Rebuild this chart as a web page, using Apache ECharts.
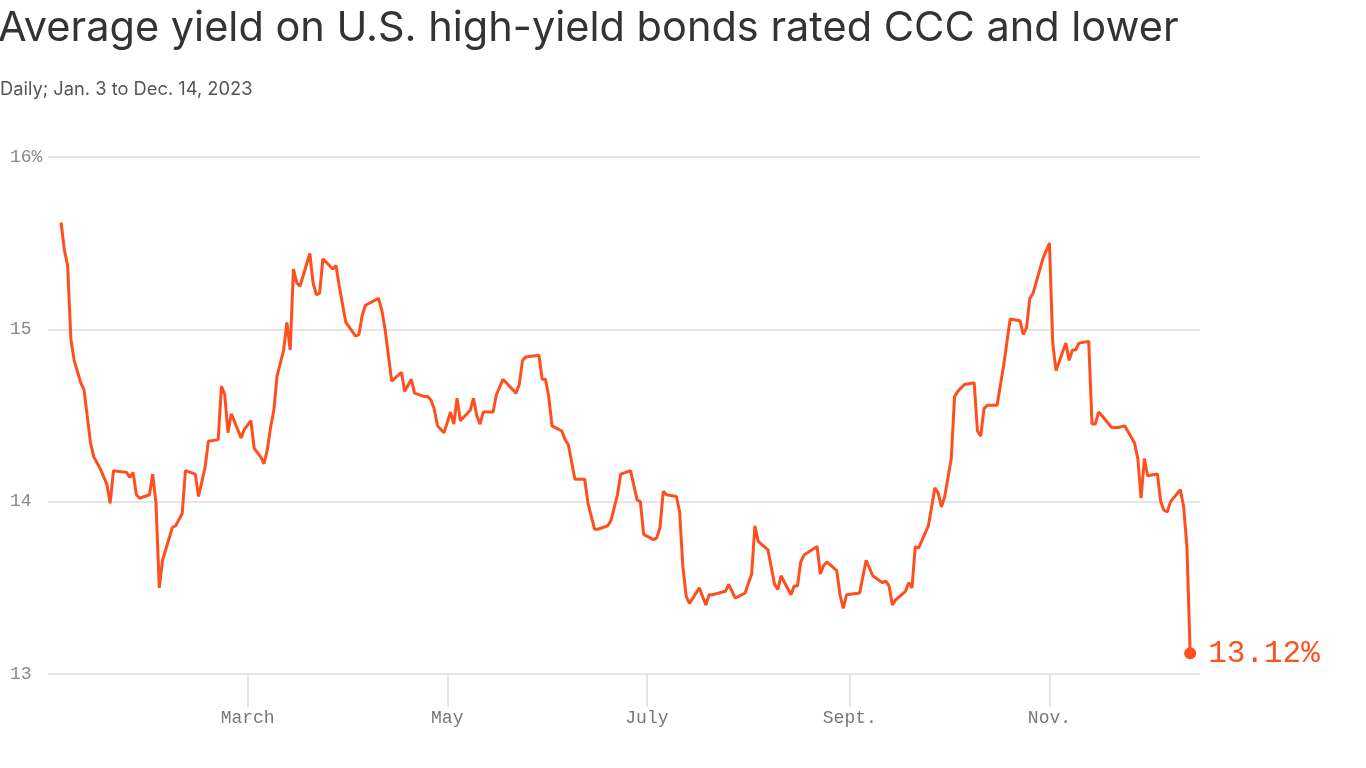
<!DOCTYPE html>
<html>
<head>
<meta charset="utf-8">
<title>CCC yield</title>
<script src="https://cdn.jsdelivr.net/npm/echarts@6/dist/echarts.min.js"></script>
<style>
  html, body { margin: 0; padding: 0; background: #fff; }
  #chart { width: 1366px; height: 768px; }
</style>
</head>
<body>
<div id="chart"></div>
<script>
  // daily yield readings, 2023
  var dates = [
    '2023-01-03', '2023-01-04', '2023-01-05', '2023-01-06', '2023-01-07', '2023-01-09', '2023-01-10', '2023-01-12',
    '2023-01-13', '2023-01-15', '2023-01-17', '2023-01-18', '2023-01-19', '2023-01-23', '2023-01-24', '2023-01-25',
    '2023-01-26', '2023-01-27', '2023-01-30', '2023-01-31', '2023-02-01', '2023-02-02', '2023-02-03', '2023-02-06',
    '2023-02-07', '2023-02-09', '2023-02-10', '2023-02-13', '2023-02-14', '2023-02-16', '2023-02-17', '2023-02-20',
    '2023-02-21', '2023-02-22', '2023-02-23', '2023-02-24', '2023-02-27', '2023-02-28', '2023-03-02', '2023-03-03',
    '2023-03-05', '2023-03-06', '2023-03-07', '2023-03-08', '2023-03-09', '2023-03-10', '2023-03-12', '2023-03-13',
    '2023-03-14', '2023-03-15', '2023-03-16', '2023-03-17', '2023-03-20', '2023-03-21', '2023-03-22', '2023-03-23',
    '2023-03-24', '2023-03-27', '2023-03-28', '2023-03-29', '2023-03-31', '2023-04-03', '2023-04-04', '2023-04-05',
    '2023-04-06', '2023-04-10', '2023-04-11', '2023-04-12', '2023-04-14', '2023-04-17', '2023-04-18', '2023-04-20',
    '2023-04-21', '2023-04-24', '2023-04-25', '2023-04-26', '2023-04-27', '2023-04-28', '2023-04-30', '2023-05-02',
    '2023-05-03', '2023-05-04', '2023-05-05', '2023-05-08', '2023-05-09', '2023-05-10', '2023-05-11', '2023-05-12',
    '2023-05-15', '2023-05-16', '2023-05-18', '2023-05-22', '2023-05-23', '2023-05-24', '2023-05-25', '2023-05-29',
    '2023-05-30', '2023-05-31', '2023-06-01', '2023-06-02', '2023-06-05', '2023-06-06', '2023-06-07', '2023-06-09',
    '2023-06-12', '2023-06-13', '2023-06-15', '2023-06-16', '2023-06-19', '2023-06-20', '2023-06-22', '2023-06-23',
    '2023-06-26', '2023-06-28', '2023-06-29', '2023-06-30', '2023-07-03', '2023-07-04', '2023-07-05', '2023-07-06',
    '2023-07-07', '2023-07-10', '2023-07-11', '2023-07-12', '2023-07-13', '2023-07-14', '2023-07-17', '2023-07-19',
    '2023-07-20', '2023-07-21', '2023-07-25', '2023-07-26', '2023-07-28', '2023-07-31', '2023-08-02', '2023-08-03',
    '2023-08-04', '2023-08-07', '2023-08-09', '2023-08-10', '2023-08-11', '2023-08-14', '2023-08-15', '2023-08-16',
    '2023-08-17', '2023-08-18', '2023-08-22', '2023-08-23', '2023-08-24', '2023-08-25', '2023-08-28', '2023-08-29',
    '2023-08-30', '2023-08-31', '2023-09-04', '2023-09-06', '2023-09-08', '2023-09-11', '2023-09-12', '2023-09-13',
    '2023-09-14', '2023-09-15', '2023-09-18', '2023-09-19', '2023-09-20', '2023-09-21', '2023-09-22', '2023-09-25',
    '2023-09-27', '2023-09-28', '2023-09-29', '2023-09-30', '2023-10-02', '2023-10-03', '2023-10-04', '2023-10-06',
    '2023-10-09', '2023-10-10', '2023-10-11', '2023-10-12', '2023-10-13', '2023-10-16', '2023-10-18', '2023-10-20',
    '2023-10-23', '2023-10-24', '2023-10-25', '2023-10-26', '2023-10-27', '2023-10-30', '2023-11-01', '2023-11-02',
    '2023-11-03', '2023-11-06', '2023-11-07', '2023-11-08', '2023-11-09', '2023-11-10', '2023-11-13', '2023-11-14',
    '2023-11-15', '2023-11-16', '2023-11-17', '2023-11-20', '2023-11-22', '2023-11-24', '2023-11-27', '2023-11-28',
    '2023-11-29', '2023-11-30', '2023-12-01', '2023-12-04', '2023-12-05', '2023-12-06', '2023-12-07', '2023-12-08',
    '2023-12-11', '2023-12-12', '2023-12-13', '2023-12-14'
  ]
  var yields = [
    15.62, 15.46, 15.37, 14.94, 14.82, 14.69, 14.65, 14.34,
    14.26, 14.19, 14.10, 13.99, 14.18, 14.17, 14.14, 14.17,
    14.04, 14.02, 14.04, 14.16, 13.99, 13.50, 13.66, 13.85,
    13.86, 13.93, 14.18, 14.16, 14.03, 14.20, 14.35, 14.36,
    14.67, 14.62, 14.40, 14.51, 14.37, 14.42, 14.47, 14.31,
    14.26, 14.22, 14.30, 14.43, 14.53, 14.73, 14.88, 15.04,
    14.88, 15.35, 15.27, 15.25, 15.44, 15.27, 15.20, 15.21,
    15.41, 15.35, 15.37, 15.25, 15.04, 14.96, 14.97, 15.08,
    15.14, 15.18, 15.11, 15.00, 14.70, 14.75, 14.64, 14.71,
    14.63, 14.61, 14.61, 14.59, 14.54, 14.44, 14.40, 14.52,
    14.45, 14.60, 14.47, 14.53, 14.60, 14.50, 14.45, 14.52,
    14.52, 14.62, 14.71, 14.63, 14.68, 14.82, 14.84, 14.85,
    14.71, 14.71, 14.61, 14.44, 14.41, 14.36, 14.33, 14.13,
    14.13, 13.99, 13.84, 13.84, 13.86, 13.89, 14.04, 14.16,
    14.18, 14.01, 14.00, 13.81, 13.78, 13.79, 13.85, 14.06,
    14.04, 14.03, 13.94, 13.62, 13.45, 13.41, 13.50, 13.40,
    13.46, 13.46, 13.48, 13.52, 13.44, 13.47, 13.58, 13.86,
    13.77, 13.72, 13.52, 13.49, 13.57, 13.46, 13.51, 13.51,
    13.65, 13.69, 13.74, 13.58, 13.63, 13.65, 13.60, 13.46,
    13.38, 13.46, 13.47, 13.66, 13.57, 13.53, 13.54, 13.51,
    13.40, 13.43, 13.48, 13.53, 13.50, 13.74, 13.73, 13.86,
    14.08, 14.05, 13.97, 14.03, 14.25, 14.61, 14.64, 14.68,
    14.69, 14.41, 14.38, 14.54, 14.56, 14.56, 14.79, 15.06,
    15.05, 14.97, 15.01, 15.18, 15.21, 15.41, 15.50, 14.92,
    14.76, 14.92, 14.82, 14.88, 14.88, 14.92, 14.93, 14.45,
    14.45, 14.52, 14.50, 14.43, 14.43, 14.44, 14.34, 14.25,
    14.02, 14.25, 14.15, 14.16, 14.00, 13.95, 13.94, 14.00,
    14.07, 13.97, 13.74, 13.12
  ]
  var tickDates = ['2023-03-01', '2023-05-01', '2023-07-01', '2023-09-01', '2023-11-01']
  var tickLabels = ['March', 'May', 'July', 'Sept.', 'Nov.']
  var yTicks = [13, 14, 15, 16]

  var lineColor = '#ff4f1f'
  var mono = '"Liberation Mono", "DejaVu Sans Mono", monospace'

  function toTime(s) {
    var p = s.split('-')
    return Date.UTC(+p[0], +p[1] - 1, +p[2])
  }

  var tickTimes = tickDates.map(toTime)
  var points = dates.map(function (d, i) { return [toTime(d), yields[i]] })
  var last = points[points.length - 1]

  var chart = echarts.init(document.getElementById('chart'))
  chart.setOption({
    animation: false,
    title: [{
      text: 'Average yield on U.S. high-yield bonds rated CCC and lower',
      left: -2,
      top: 8,
      padding: 0,
      textStyle: {
        fontFamily: 'Inter, "Noto Sans", sans-serif',
        fontWeight: 'normal',
        fontSize: 41.5,
        color: '#333'
      }
    }, {
      text: 'Daily; Jan. 3 to Dec. 14, 2023',
      left: 0,
      top: 81,
      padding: 0,
      textStyle: {
        fontFamily: 'Inter, "Noto Sans", sans-serif',
        fontWeight: 'normal',
        fontSize: 18.3,
        color: '#555'
      }
    }],
    grid: {
      left: 48,
      right: 166,
      top: 157,
      bottom: 94,
      containLabel: false
    },
    // plain value axis on timestamps, so custom month ticks work
    xAxis: {
      type: 'value',
      min: toTime('2022-12-30'),
      max: toTime('2023-12-17'),
      axisLine: { show: false },
      splitLine: { show: false },
      axisTick: {
        show: true,
        length: 33,
        customValues: tickTimes,
        lineStyle: { color: '#ddd', width: 1.5 }
      },
      axisLabel: {
        customValues: tickTimes,
        margin: 35,
        color: '#777',
        fontFamily: mono,
        fontSize: 18,
        formatter: function (v) {
          var i = tickTimes.indexOf(v)
          return i >= 0 ? tickLabels[i] : ''
        }
      }
    },
    yAxis: {
      type: 'value',
      min: yTicks[0],
      max: yTicks[yTicks.length - 1],
      interval: 1,
      axisLine: { show: false },
      axisTick: { show: false },
      splitLine: { lineStyle: { color: '#ddd', width: 1.5 } },
      axisLabel: {
        align: 'left',
        margin: 38,
        color: '#888',
        fontFamily: mono,
        fontSize: 18,
        formatter: function (v) {
          return v === yTicks[yTicks.length - 1] ? v + '%' : v
        }
      }
    },
    series: [{
      type: 'line',
      data: points,
      showSymbol: false,
      lineStyle: { color: lineColor, width: 3 },
      itemStyle: { color: lineColor }
    }, {
      type: 'scatter',
      data: [last],
      symbolSize: 12,
      itemStyle: { color: lineColor, opacity: 1 },
      label: {
        show: true,
        position: 'right',
        distance: 12,
        color: lineColor,
        fontFamily: mono,
        fontSize: 31,
        formatter: function (p) { return p.value[1].toFixed(2) + '%' }
      }
    }]
  })
</script>
</body>
</html>
